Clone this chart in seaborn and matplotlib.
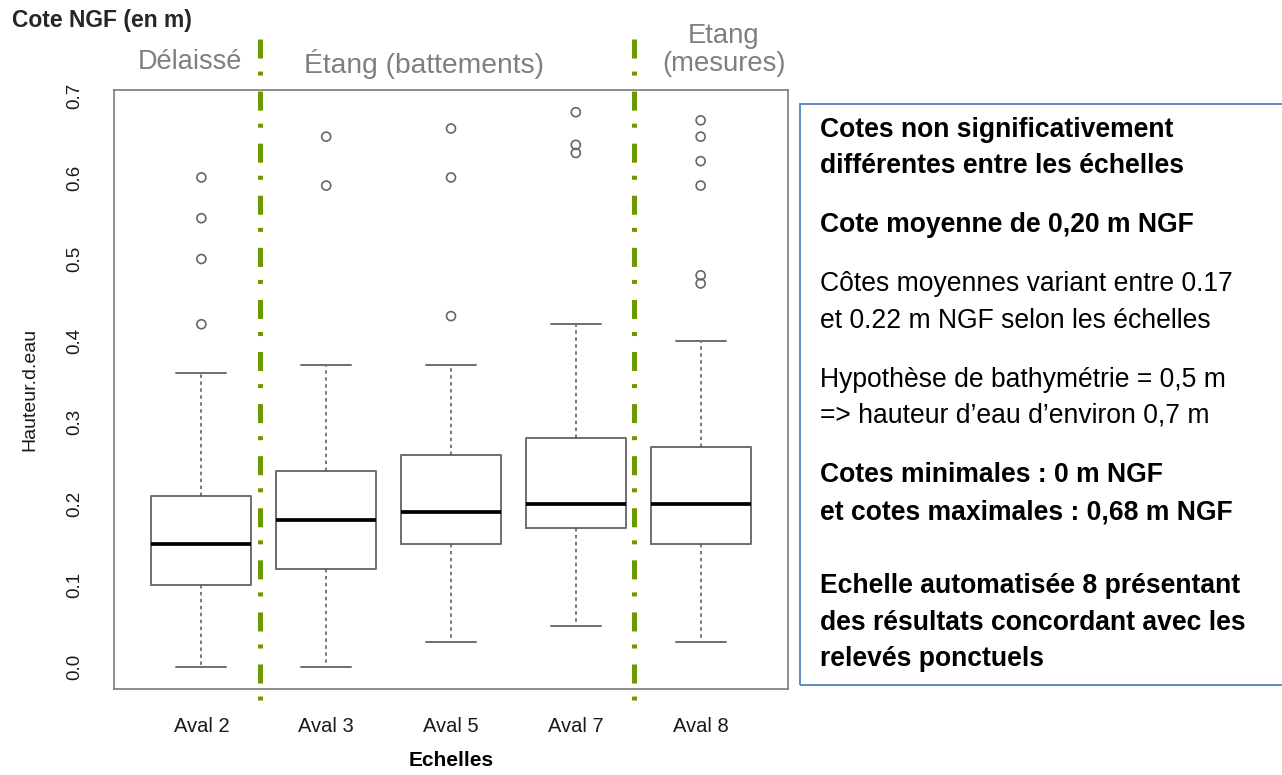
import numpy as np
import pandas as pd
import seaborn as sns
import matplotlib.pyplot as plt
from matplotlib.patches import Rectangle


OUTPUT_PATH = "out.png"

# Box statistics (Hauteur d'eau, m NGF)
ECHELLES = ["Aval 2", "Aval 3", "Aval 5", "Aval 7", "Aval 8"]
MEDIANS = [0.15, 0.18, 0.19, 0.20, 0.20]
Q1 = [0.10, 0.12, 0.15, 0.17, 0.15]
Q3 = [0.21, 0.24, 0.26, 0.28, 0.27]
WHISK_LOW = [0.00, 0.00, 0.03, 0.05, 0.03]
WHISK_HIGH = [0.36, 0.37, 0.37, 0.42, 0.40]
FLIERS = [
    [0.42, 0.50, 0.55, 0.60],
    [0.59, 0.65],
    [0.43, 0.60, 0.66],
    [0.63, 0.64, 0.68],
    [0.47, 0.48, 0.59, 0.62, 0.65, 0.67],
]
Y_TICKS = [0.0, 0.1, 0.2, 0.3, 0.4, 0.5, 0.6, 0.7]

# group separators sit between these boxes
SEPARATORS = [0.47, 3.47]

NOTES = [
    ("Cotes non significativement", "bold"),
    ("différentes entre les échelles", "bold"),
    ("Cote moyenne de 0,20 m NGF", "bold"),
    ("Côtes moyennes variant entre 0.17", "normal"),
    ("et 0.22 m NGF selon les échelles", "normal"),
    ("Hypothèse de bathymétrie = 0,5 m", "normal"),
    ("=> hauteur d\u2019eau d\u2019environ 0,7 m", "normal"),
    ("Cotes minimales : 0 m NGF", "bold"),
    ("et cotes maximales : 0,68 m NGF", "bold"),
    ("Echelle automatisée 8 présentant", "bold"),
    ("des résultats concordant avec les", "bold"),
    ("relevés ponctuels", "bold"),
]
NOTE_ROWS_PX = [130, 166, 225, 284, 321, 380, 416, 475, 512, 586, 623, 659]

W, H = 1282, 775
GREEN = "#6a9a00"
GRAY = "#6e6e6e"


def fx(px):
    return px / W


def fy(py):
    return 1 - py / H


def main() -> None:
    sns.set_style("white")
    plt.rcParams["font.family"] = ["Liberation Sans", "DejaVu Sans"]
    plt.rcParams["lines.scale_dashes"] = False

    fig = plt.figure(figsize=(W / 100, H / 100), dpi=100)
    ax = fig.add_axes([fx(114), fy(689), fx(788 - 114), (689 - 90) / H])

    stats = [
        {"label": n, "med": m, "q1": a, "q3": b, "whislo": lo, "whishi": hi, "fliers": []}
        for n, m, a, b, lo, hi in zip(ECHELLES, MEDIANS, Q1, Q3, WHISK_LOW, WHISK_HIGH)
    ]
    ax.bxp(
        stats,
        positions=range(len(ECHELLES)),
        widths=0.8,
        capwidths=0.4,
        showfliers=False,
        manage_ticks=False,
        boxprops=dict(color=GRAY, linewidth=1.4),
        whiskerprops=dict(color="#555555", linewidth=1.1, linestyle=(0, (2.5, 2.5))),
        capprops=dict(color=GRAY, linewidth=1.4),
        medianprops=dict(color="black", linewidth=2.7, solid_capstyle="butt"),
    )

    flier_df = pd.DataFrame(
        [(i, v) for i, vals in enumerate(FLIERS) for v in vals], columns=["pos", "value"]
    )
    sns.scatterplot(
        data=flier_df, x="pos", y="value", ax=ax, marker="o", s=42,
        facecolor="none", edgecolor="#666666", linewidth=1.2, zorder=3,
    )

    ax.set_xlim(-0.7, len(ECHELLES) - 0.3)
    ax.set_ylim(-0.0272, 0.7072)
    ax.set_xticks(range(len(ECHELLES)))
    ax.set_xticklabels(ECHELLES)
    ax.set_yticks(Y_TICKS)
    ax.set_yticklabels([f"{t:.1f}" for t in Y_TICKS], rotation=90, va="center")
    ax.tick_params(axis="both", which="major", direction="out", length=8, width=1.0,
                   color="#666666", labelcolor="#1a1a1a")
    ax.tick_params(axis="x", pad=12, labelsize=14.5)
    ax.tick_params(axis="y", pad=14, labelsize=13.5)
    for sp in ax.spines.values():
        sp.set_color("#7a7a7a")
        sp.set_linewidth(1.2)

    ax.set_ylabel("Hauteur.d.eau", fontsize=14, color="#1a1a1a")
    ax.yaxis.set_label_coords(-0.112, 0.5)
    ax.set_xlabel("Echelles", fontsize=15, fontweight="bold", color="black")
    ax.xaxis.set_label_coords(0.5, -0.103)

    # green dash-dot separators, running past the frame
    for xs in SEPARATORS:
        ax.plot([xs, xs], [0.77, -0.041], color=GREEN, linewidth=3.6,
                linestyle=(0, (13.7, 9.4, 2.9, 11.5)), clip_on=False, zorder=4)

    section_color = "#7f7f7f"
    fig.text(fx(190), fy(62), "Délaissé", fontsize=19.5, color=section_color,
             ha="center", va="center")
    fig.text(fx(424), fy(64), "Étang (battements)", fontsize=20.3, color=section_color,
             ha="center", va="center")
    fig.text(fx(724), fy(50), "Etang\n(mesures)", fontsize=19.8, color=section_color,
             ha="center", va="center", multialignment="center", linespacing=1.12)

    fig.text(fx(12), fy(21), "Cote NGF (en m)", fontsize=16.5, fontweight="bold",
             ha="left", va="center")

    # comment box on the right
    fig.add_artist(Rectangle((fx(800), fy(685)), fx(484), (685 - 104) / H,
                             transform=fig.transFigure, fill=False,
                             edgecolor="#4f81bd", linewidth=1.3))
    for (txt, weight), row in zip(NOTES, NOTE_ROWS_PX):
        fig.text(fx(820), fy(row), txt, fontsize=19.1, fontweight=weight,
                 ha="left", va="center", color="black")

    fig.savefig(OUTPUT_PATH, dpi=100)
    plt.close(fig)


if __name__ == "__main__":
    main()
